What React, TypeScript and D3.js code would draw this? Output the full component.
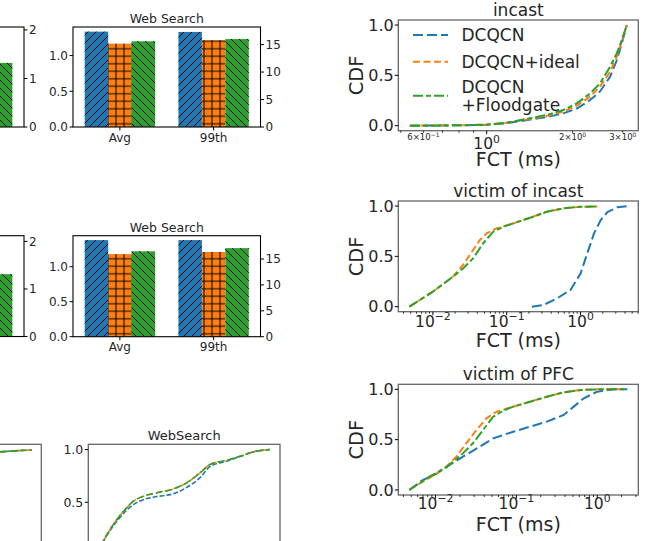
import React from 'react';
import * as d3 from 'd3';

// ---------------- data ----------------
const SERIES = ['DCQCN', 'DCQCN+ideal', 'DCQCN\n+Floodgate'];
const COLORS = ['#1f77b4', '#ff7f0e', '#2ca02c'];
const HATCHES = ['hatchFwd', 'hatchGrid', 'hatchBack'];
const DASHES_BIG = ['10,4', '7,3.5', '10,3,5,3'];
const DASHES_SMALL = ['5,2', '6,3', '7,3'];

const BAR_CATEGORIES = ['Avg', '99th'];
const BAR_LEFT_TICKS = [0, 0.5, 1.0];
const BAR_RIGHT_TICKS = [0, 5, 10, 15];
const PARTIAL_TICKS = [0, 1, 2];

// "Web Search" bar panels: Avg on the left axis, 99th on the right axis
const ws1Avg = [1.335, 1.167, 1.2];
const ws1P99 = [17.3, 15.8, 16.0];
const ws2Avg = [1.38, 1.18, 1.22];
const ws2P99 = [18.65, 16.35, 17.1];
// partially visible panels at the left edge (only the green 99th bar shows)
const partial1Green99 = 1.32;
const partial2Green99 = 1.31;

// incast CDF (FCT ms, CDF)
const incastBlue: [number, number][] = [[0.538, 0], [0.828, 0.004], [1.0, 0.008], [1.175, 0.025], [1.419, 0.06], [1.624, 0.085], [1.857, 0.122], [2.07, 0.17], [2.305, 0.255], [2.497, 0.34], [2.708, 0.487], [2.858, 0.65], [2.977, 0.82], [3.1, 1.0]];
const incastIdeal: [number, number][] = [[0.538, 0], [0.828, 0.005], [1.0, 0.01], [1.175, 0.028], [1.419, 0.068], [1.624, 0.095], [1.857, 0.14], [2.07, 0.2], [2.305, 0.288], [2.497, 0.39], [2.708, 0.536], [2.858, 0.685], [2.977, 0.84], [3.1, 1.0]];
const incastFlood: [number, number][] = [[0.538, 0], [0.632, 0.0], [0.828, 0.005], [1.0, 0.01], [1.175, 0.03], [1.419, 0.073], [1.624, 0.106], [1.857, 0.156], [2.07, 0.222], [2.305, 0.32], [2.497, 0.42], [2.708, 0.586], [2.858, 0.72], [2.977, 0.85], [3.083, 0.98], [3.1, 1.0]];

// victim of incast
const vicIncastBlue: [number, number][] = [[0.219, 0], [0.316, 0.017], [0.481, 0.083], [0.731, 0.166], [1.0, 0.33], [1.233, 0.53], [1.52, 0.728], [1.875, 0.86], [2.31, 0.94], [3.16, 0.987], [4.33, 1.0]];
const vicIncastIdeal: [number, number][] = [[0.0048, 0], [0.01, 0.149], [0.0187, 0.298], [0.0256, 0.414], [0.035, 0.563], [0.0432, 0.662], [0.0533, 0.728], [0.073, 0.778], [0.123, 0.828], [0.208, 0.884], [0.351, 0.944], [0.592, 0.977], [1.0, 0.993], [1.69, 0.995]];
const vicIncastFlood: [number, number][] = [[0.0048, 0], [0.01, 0.149], [0.0187, 0.298], [0.0256, 0.38], [0.035, 0.48], [0.048, 0.63], [0.0657, 0.745], [0.0899, 0.795], [0.123, 0.828], [0.208, 0.884], [0.351, 0.944], [0.592, 0.977], [1.0, 0.993], [1.69, 0.995]];

// victim of PFC
const vicPfcBlue: [number, number][] = [[0.00473, 0], [0.00693, 0.099], [0.0102, 0.159], [0.0149, 0.248], [0.0218, 0.331], [0.0352, 0.43], [0.0516, 0.513], [0.0914, 0.579], [0.1476, 0.629], [0.238, 0.679], [0.384, 0.745], [0.512, 0.828], [0.681, 0.911], [1.0, 0.977], [1.61, 1.0], [2.36, 1.0]];
const vicPfcIdeal: [number, number][] = [[0.00473, 0], [0.00693, 0.083], [0.0102, 0.159], [0.01356, 0.232], [0.0181, 0.331], [0.024, 0.464], [0.032, 0.596], [0.0427, 0.712], [0.0569, 0.778], [0.0914, 0.828], [0.1476, 0.877], [0.238, 0.927], [0.384, 0.97], [0.619, 0.993], [1.0, 1.0], [1.95, 1.0]];
const vicPfcFlood: [number, number][] = [[0.00473, 0], [0.0084, 0.132], [0.01356, 0.225], [0.0218, 0.364], [0.029, 0.464], [0.0387, 0.596], [0.0516, 0.728], [0.0687, 0.788], [0.0914, 0.828], [0.1476, 0.877], [0.238, 0.927], [0.384, 0.97], [0.619, 0.993], [1.0, 1.0], [2.14, 1.0]];

// WebSearch CDF (x in relative axis units 0..100)
const wsCdfBlue: [number, number][] = [[4, 0], [7.8, 0.13], [11.3, 0.23], [20, 0.425], [23.5, 0.478], [28.7, 0.525], [35.7, 0.554], [44.3, 0.58], [51.3, 0.64], [58.3, 0.734], [63.5, 0.84], [72.2, 0.89], [79.1, 0.934], [86.1, 0.978], [94.8, 1.0]];
const wsCdfIdeal: [number, number][] = [[4, 0], [7.8, 0.13], [11.3, 0.24], [20, 0.447], [23.5, 0.51], [28.7, 0.557], [35.7, 0.59], [44.3, 0.627], [51.3, 0.684], [58.3, 0.78], [63.5, 0.858], [72.2, 0.898], [79.1, 0.936], [86.1, 0.978], [94.8, 1.0]];
const wsCdfFlood: [number, number][] = [[4, 0], [7.8, 0.13], [11.3, 0.24], [20, 0.447], [23.5, 0.51], [28.7, 0.557], [35.7, 0.59], [44.3, 0.627], [51.3, 0.684], [58.3, 0.78], [63.5, 0.858], [72.2, 0.898], [79.1, 0.936], [86.1, 0.978], [94.8, 1.0]];
// partially visible CDF at left edge
const partialCdf: [number, number][] = [[78.5, 0.978], [86, 0.988], [95.1, 0.995]];

const CDF_TICKS = [0, 0.5, 1.0];

const FONT = 'DejaVu Sans, Verdana, sans-serif';
const SPINE_GRAY = '#666';
const PAGE_H = 541;

// ---------------- components ----------------
function BarPanel(props: any) {
  const { x0, x1, yTop, yBot, leftMax, rightMax, avg, p99, title, k } = props;
  const x = d3.scaleLinear().domain([-0.5, 1.5]).range([x0, x1]);
  const yl = d3.scaleLinear().domain([0, leftMax]).range([yBot, yTop]);
  const yr = d3.scaleLinear().domain([0, rightMax]).range([yBot, yTop]);
  const bw = 0.25;
  const bars: any[] = [];
  BAR_CATEGORIES.forEach((cat, gi) => {
    const vals = gi === 0 ? avg : p99;
    const sc = gi === 0 ? yl : yr;
    vals.forEach((v: number, si: number) => {
      const cx = gi + (si - 1) * bw;
      const bx0 = x(cx - bw / 2);
      const bx1 = x(cx + bw / 2);
      const top = sc(v);
      bars.push(
        <g key={`${k}-${gi}-${si}`}>
          <rect x={bx0} y={top} width={bx1 - bx0} height={yBot - top} fill={COLORS[si]} />
          <rect x={bx0} y={top} width={bx1 - bx0} height={yBot - top} fill={`url(#${HATCHES[si]})`} />
        </g>
      );
    });
  });
  return (
    <g>
      {bars}
      <rect x={x0} y={yTop} width={x1 - x0} height={yBot - yTop} fill="none" stroke="#000" strokeWidth={1.1} />
      {BAR_LEFT_TICKS.map((t) => (
        <g key={`l${t}`}>
          <line x1={x0} x2={x0 - 3.5} y1={yl(t)} y2={yl(t)} stroke="#000" />
          <text x={x0 - 5} y={yl(t) + 4.3} textAnchor="end" fontSize={12} fill="#262626">{t.toFixed(1)}</text>
        </g>
      ))}
      {BAR_RIGHT_TICKS.map((t) => (
        <g key={`r${t}`}>
          <line x1={x1} x2={x1 + 3.5} y1={yr(t)} y2={yr(t)} stroke="#000" />
          <text x={x1 + 5} y={yr(t) + 4.3} textAnchor="start" fontSize={12} fill="#262626">{t}</text>
        </g>
      ))}
      {BAR_CATEGORIES.map((c, i) => (
        <g key={`c${c}`}>
          <line x1={x(i)} x2={x(i)} y1={yBot} y2={yBot + 3.5} stroke="#000" />
          <text x={x(i)} y={yBot + 14.5} textAnchor="middle" fontSize={12} fill="#262626">{c}</text>
        </g>
      ))}
      <text x={(x0 + x1) / 2} y={yTop - 4} textAnchor="middle" fontSize={12.5} fill="#262626">{title}</text>
    </g>
  );
}

function PartialBarPanel(props: any) {
  const { x0, x1, yTop, yBot, rightMax, green99 } = props;
  const x = d3.scaleLinear().domain([-0.5, 1.5]).range([x0, x1]);
  const yr = d3.scaleLinear().domain([0, rightMax]).range([yBot, yTop]);
  const bw = 0.25;
  const cx = 1 + bw;
  const bx0 = x(cx - bw / 2);
  const bx1 = x(cx + bw / 2);
  const top = yr(green99);
  return (
    <g>
      <rect x={bx0} y={top} width={bx1 - bx0} height={yBot - top} fill={COLORS[2]} />
      <rect x={bx0} y={top} width={bx1 - bx0} height={yBot - top} fill={`url(#${HATCHES[2]})`} />
      <rect x={x0} y={yTop} width={x1 - x0} height={yBot - yTop} fill="none" stroke="#000" strokeWidth={1.1} />
      {PARTIAL_TICKS.map((t) => (
        <g key={`p${t}`}>
          <line x1={x1} x2={x1 + 3.5} y1={yr(t)} y2={yr(t)} stroke="#000" />
          <text x={x1 + 5} y={yr(t) + 4.3} textAnchor="start" fontSize={12} fill="#262626">{t}</text>
        </g>
      ))}
    </g>
  );
}

function supText(base: string, exp: string, x: number, y: number, size: number, key: string) {
  return (
    <text key={key} x={x} y={y} textAnchor="middle" fontSize={size} fill="#262626">
      {base}
      <tspan dy={-size * 0.42} fontSize={size * 0.7}>{exp}</tspan>
    </text>
  );
}

function LogCdfPanel(props: any) {
  const { x0, x1, yTop, yBot, xdom, series, title, majors, minorLabels, majorLabelDy, legend } = props;
  const x = d3.scaleLog().domain(xdom).range([x0, x1]);
  const y = d3.scaleLinear().domain([-0.05, 1.05]).range([yBot, yTop]);
  const line = d3.line<[number, number]>().x((d) => x(d[0])).y((d) => y(d[1]));
  const minors: number[] = [];
  for (let e = -4; e <= 1; e++) {
    for (let m = 2; m <= 9; m++) {
      const v = m * Math.pow(10, e);
      if (v >= xdom[0] && v <= xdom[1]) minors.push(v);
    }
  }
  return (
    <g>
      {series.map((s: [number, number][], i: number) => (
        <path key={`s${i}`} d={line(s) || ''} fill="none" stroke={COLORS[i]} strokeWidth={2} strokeDasharray={DASHES_BIG[i]} />
      ))}
      <rect x={x0} y={yTop} width={x1 - x0} height={yBot - yTop} fill="none" stroke={SPINE_GRAY} strokeWidth={1.3} />
      {CDF_TICKS.map((t) => (
        <g key={`y${t}`}>
          <line x1={x0} x2={x0 - 3.5} y1={y(t)} y2={y(t)} stroke="#000" />
          <text x={x0 - 4.5} y={y(t) + 5.8} textAnchor="end" fontSize={16} fill="#262626">{t.toFixed(1)}</text>
        </g>
      ))}
      {minors.map((v) => (
        <line key={`m${v}`} x1={x(v)} x2={x(v)} y1={yBot} y2={yBot + 2} stroke="#000" strokeWidth={0.8} />
      ))}
      {majors.map((e: number) => (
        <g key={`M${e}`}>
          <line x1={x(Math.pow(10, e))} x2={x(Math.pow(10, e))} y1={yBot} y2={yBot + 3.5} stroke="#000" />
          {supText('10', e < 0 ? `\u2212${-e}` : `${e}`, x(Math.pow(10, e)), yBot + majorLabelDy, 15.5, `ml${e}`)}
        </g>
      ))}
      {(minorLabels || []).map((ml: any) => (
        <text key={`mlab${ml.v}`} x={x(ml.v)} y={yBot + 9.5} textAnchor="middle" fontSize={8.5} fill="#262626">
          {ml.m}×10
          <tspan dy={-3.5} fontSize={6}>{ml.e}</tspan>
        </text>
      ))}
      <text x={(x0 + x1) / 2} y={yTop - 4.5} textAnchor="middle" fontSize={17} fill="#262626">{title}</text>
      <text x={(x0 + x1) / 2} y={yBot + 35.5} textAnchor="middle" fontSize={19} fill="#262626">FCT (ms)</text>
      <text transform={`translate(362.5,${(yTop + yBot) / 2}) rotate(-90)`} textAnchor="middle" fontSize={19.5} fill="#262626">CDF</text>
      {legend && (
        <g>
          {SERIES.map((name, i) => {
            const lines = name.split('\n');
            const cy = [35, 61.7, 95.8][i];
            const lh = 18.3;
            const startY = cy - ((lines.length - 1) * lh) / 2;
            return (
              <g key={`lg${i}`}>
                <line x1={413} x2={448} y1={cy} y2={cy} stroke={COLORS[i]} strokeWidth={2} strokeDasharray={DASHES_BIG[i]} />
                {lines.map((ln, j) => (
                  <text key={j} x={461.5} y={startY + j * lh + 6} fontSize={17} fill="#262626">{ln}</text>
                ))}
              </g>
            );
          })}
        </g>
      )}
    </g>
  );
}

function LinCdfPanel(props: any) {
  const { x0, x1, yTop, series, title, partial } = props;
  const yUnit = 105.4;
  const yBot = yTop + 1.1 * yUnit;
  const x = d3.scaleLinear().domain([0, 100]).range([x0, x1]);
  const y = d3.scaleLinear().domain([-0.05, 1.05]).range([yBot, yTop]);
  const line = d3.line<[number, number]>().x((d) => x(d[0])).y((d) => y(d[1])).curve(d3.curveMonotoneX);
  const visibleTicks = CDF_TICKS.filter((t) => y(t) < PAGE_H - 4);
  return (
    <g>
      {series.map((s: [number, number][], i: number) => (
        <path key={`w${i}`} d={line(s) || ''} fill="none" stroke={COLORS[i]} strokeWidth={1.6} strokeDasharray={DASHES_SMALL[i]} />
      ))}
      <rect x={x0} y={yTop} width={x1 - x0} height={yBot - yTop} fill="none" stroke={SPINE_GRAY} strokeWidth={1.3} />
      {!partial && visibleTicks.map((t) => (
        <g key={`wy${t}`}>
          <line x1={x0} x2={x0 - 3.5} y1={y(t)} y2={y(t)} stroke="#000" />
          <text x={x0 - 5} y={y(t) + 4.5} textAnchor="end" fontSize={12.5} fill="#262626">{t.toFixed(1)}</text>
        </g>
      ))}
      {title && <text x={(x0 + x1) / 2} y={yTop - 4.3} textAnchor="middle" fontSize={13} fill="#262626">{title}</text>}
    </g>
  );
}

export default function App() {
  return (
    <svg width={658} height={541} style={{ position: 'absolute', left: 0, top: 0, background: '#fff' }} fontFamily={FONT}>
      <defs>
        <pattern id="hatchFwd" patternUnits="userSpaceOnUse" width={8} height={8}>
          <path d="M0,8 L8,0 M-2,2 L2,-2 M6,10 L10,6" stroke="#000" strokeWidth={1} />
        </pattern>
        <pattern id="hatchBack" patternUnits="userSpaceOnUse" width={8} height={8}>
          <path d="M0,0 L8,8 M-2,6 L2,10 M6,-2 L10,2" stroke="#000" strokeWidth={1} />
        </pattern>
        <pattern id="hatchGrid" patternUnits="userSpaceOnUse" width={8} height={7.5}>
          <path d="M0,3.75 H8 M4,0 V7.5" stroke="#000" strokeWidth={1} />
        </pattern>
      </defs>
      <rect x={0} y={0} width={658} height={541} fill="#fff" />

      <PartialBarPanel x0={-163} x1={24} yTop={27} yBot={127} rightMax={2.06} green99={partial1Green99} />
      <BarPanel k="r1" x0={73} x1={260.5} yTop={27} yBot={127} leftMax={1.4} rightMax={18.2} avg={ws1Avg} p99={ws1P99} title="Web Search" />

      <PartialBarPanel x0={-163} x1={24} yTop={235.7} yBot={336.5} rightMax={2.12} green99={partial2Green99} />
      <BarPanel k="r2" x0={73} x1={260.5} yTop={235.7} yBot={336.7} leftMax={1.443} rightMax={19.5} avg={ws2Avg} p99={ws2P99} title="Web Search" />

      <LinCdfPanel x0={-150.4} x1={41.3} yTop={444.3} series={[partialCdf, partialCdf, partialCdf]} partial />
      <LinCdfPanel x0={88.3} x1={280} yTop={444.3} series={[wsCdfBlue, wsCdfIdeal, wsCdfFlood]} title="WebSearch" />

      <LogCdfPanel x0={398.3} x1={638.3} yTop={20} yBot={130.7} xdom={[0.49, 3.4]} series={[incastBlue, incastIdeal, incastFlood]} title="incast" majors={[0]} majorLabelDy={18.7}
        minorLabels={[{ v: 0.6, m: 6, e: '\u22121' }, { v: 2, m: 2, e: '0' }, { v: 3, m: 3, e: '0' }]} legend />
      <LogCdfPanel x0={398.3} x1={638.3} yTop={201} yBot={311.7} xdom={[0.0034, 6.05]} series={[vicIncastBlue, vicIncastIdeal, vicIncastFlood]} title="victim of incast" majors={[-2, -1, 0]} majorLabelDy={15} />
      <LogCdfPanel x0={398.3} x1={638.3} yTop={384.3} yBot={495} xdom={[0.00346, 3.22]} series={[vicPfcBlue, vicPfcIdeal, vicPfcFlood]} title="victim of PFC" majors={[-2, -1, 0]} majorLabelDy={14} />
    </svg>
  );
}
